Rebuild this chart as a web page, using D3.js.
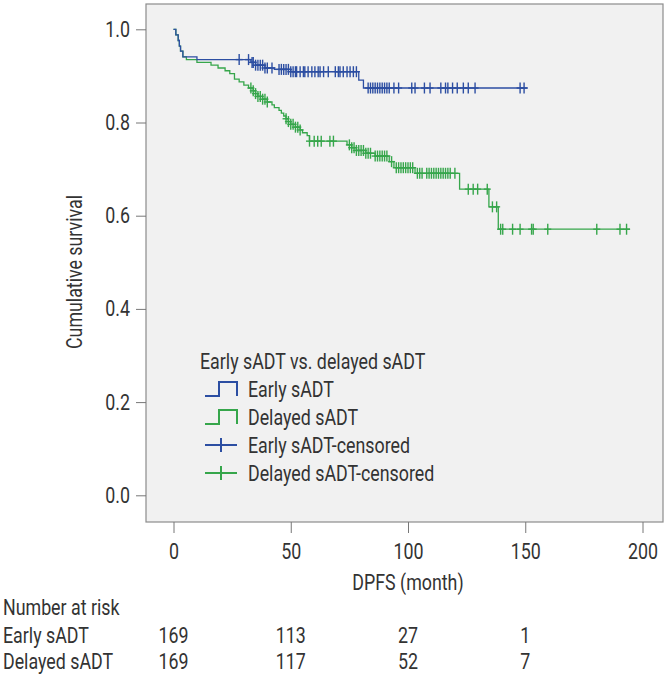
<!DOCTYPE html>
<html><head><meta charset="utf-8">
<script src="https://cdn.jsdelivr.net/npm/d3@7"></script>
<style>
html,body{margin:0;padding:0;background:#fff;}
text{font-family:"Roboto","Noto Sans",sans-serif;fill:#333;}
</style></head>
<body>
<svg id="c" width="668" height="678"></svg>
<script>
// ---- data ----
const xTicks = [0, 50, 100, 150, 200];
const yTicks = [0, 0.2, 0.4, 0.6, 0.8, 1.0];
const groups = ["Early sADT", "Delayed sADT"];
const riskTimes = [0, 50, 100, 150];
const riskEarly = [169, 113, 27, 1];
const riskDelayed = [169, 117, 52, 7];

// Early sADT: event steps [time, survival after]
const earlyTimes = [0, 1, 2, 2.5, 3, 4, 10, 33, 35, 39, 43, 50, 79, 81];
const earlySurv  = [1.0, 0.988, 0.976, 0.964, 0.953, 0.941, 0.935, 0.929, 0.923, 0.917, 0.914, 0.909, 0.891, 0.874];
const earlyEnd = 151;
const earlyCensor = [28, 32, 33.5, 34, 35, 36, 37, 38, 39, 40, 42, 45, 46, 47, 48, 49, 50, 51,
  52, 52.5, 54, 55.4, 56, 57.4, 59, 60.3, 61.7, 62.5, 64, 66, 69, 70.3, 71, 72.4, 74, 75.3, 76.7, 78,
  83, 84, 85, 86, 87, 88, 89, 90, 91, 92, 94, 96, 101.6, 103, 107, 109.4, 114, 116, 117, 119, 121,
  123.6, 125.7, 128.6, 147.8, 149.5];

// Delayed sADT
const delayedTimes = [0, 1, 2, 2.5, 3, 4, 5.5, 10, 16, 19, 22, 24, 26, 28, 30, 32, 34, 35, 36, 38, 40,
  42, 43, 45, 46, 47, 48, 49, 50, 52, 54, 55, 57, 58, 74, 76, 78, 82, 86, 92, 94, 103, 122, 134.5, 138.5];
const delayedSurv  = [1.0, 0.988, 0.976, 0.964, 0.953, 0.941, 0.935, 0.929, 0.923, 0.917, 0.911, 0.905, 0.893, 0.887, 0.880, 0.874, 0.868, 0.862, 0.856, 0.850, 0.844,
  0.838, 0.832, 0.826, 0.820, 0.814, 0.808, 0.802, 0.796, 0.790, 0.784, 0.778, 0.772, 0.760, 0.752, 0.746, 0.740, 0.734, 0.728, 0.716, 0.703, 0.691, 0.657, 0.619, 0.571];
const delayedEnd = 194.7;
const delayedCensor = [33, 34, 35, 36, 37, 38, 39, 40, 48, 49, 50, 51, 52, 53, 54,
  58, 60, 61.5, 63, 66.7, 68.2, 75, 76, 77, 78, 79, 80, 81, 82, 83, 84, 86, 87, 88, 89, 90, 91,
  93, 95, 96, 97, 98, 99, 100, 101, 102, 104, 105, 106, 108, 109, 110, 111, 112, 113, 114, 115, 116, 117, 118, 120,
  125.7, 127.8, 129.7, 133.8, 136, 137.8, 139.5, 140.4, 144.6, 147.8, 152.7, 153.4, 159.6, 180.5, 190.4, 193.2];

const colors = {"Early sADT": "#2c4ea2", "Delayed sADT": "#36a64b"};

// ---- drawing ----
const SX = 0.81;      // horizontal condensing of the type face
const FS = "22px";
const svg = d3.select("#c");
const frame = {x0: 146, y0: 4, x1: 663, y1: 522};
const x = d3.scaleLinear().domain([0, 200]).range([173.5, 642.5]);
const y = d3.scaleLinear().domain([0, 1]).range([495.3, 29.3]);

function txt(parent, px, py, str, anchor, rot) {
  return parent.append("text")
    .attr("transform", `translate(${px},${py})` + (rot ? ` rotate(${rot})` : "") + ` scale(${SX},1)`)
    .attr("text-anchor", anchor || "start").style("font-size", FS).text(str);
}

svg.append("rect").attr("x", frame.x0).attr("y", frame.y0)
  .attr("width", frame.x1 - frame.x0).attr("height", frame.y1 - frame.y0)
  .attr("fill", "#f1f1f1").attr("stroke", "#8c8c8c").attr("stroke-width", 1.2);

// y axis
const yAxis = d3.axisLeft(y).tickValues(yTicks).tickFormat(d3.format(".1f")).tickSize(10).tickPadding(6);
const gy = svg.append("g").attr("transform", `translate(${frame.x0},0)`).call(yAxis);
gy.select(".domain").remove();
gy.selectAll(".tick line").attr("stroke", "#777");
gy.selectAll(".tick text").style("font-size", FS).attr("fill", "#333")
  .attr("x", -16 / SX).attr("transform", `scale(${SX},1)`);

// x axis
const xAxis = d3.axisBottom(x).tickValues(xTicks).tickFormat(d3.format("d")).tickSize(11).tickPadding(10);
const gx = svg.append("g").attr("transform", `translate(0,${frame.y1})`).call(xAxis);
gx.select(".domain").remove();
gx.selectAll(".tick line").attr("stroke", "#777");
gx.selectAll(".tick text").style("font-size", FS).attr("fill", "#333").attr("transform", `scale(${SX},1)`);

txt(svg, x(100), 590, "DPFS (month)", "middle");
txt(svg, 82, 272, "Cumulative survival", "middle", -90);

// curves
function stepPath(times, surv, end) {
  const pts = [];
  for (let i = 0; i < times.length; i++) {
    if (i > 0) pts.push([times[i], surv[i - 1]]);
    pts.push([times[i], surv[i]]);
  }
  pts.push([end, surv[surv.length - 1]]);
  return pts;
}
function survAt(times, surv, t) {
  let s = surv[0];
  for (let i = 0; i < times.length; i++) { if (times[i] <= t) s = surv[i]; }
  return s;
}
const line = d3.line().x(d => x(d[0])).y(d => y(d[1]));
const series = [
  {name: "Delayed sADT", times: delayedTimes, surv: delayedSurv, end: delayedEnd, cens: delayedCensor},
  {name: "Early sADT", times: earlyTimes, surv: earlySurv, end: earlyEnd, cens: earlyCensor}
];
series.forEach(s => {
  const col = colors[s.name];
  svg.append("path").datum(stepPath(s.times, s.surv, s.end)).attr("d", line)
    .attr("fill", "none").attr("stroke", col).attr("stroke-width", 1.3);
  const g = svg.append("g").attr("stroke", col).attr("stroke-width", 1.4);
  s.cens.forEach(t => {
    const cx = x(t), cy = y(survAt(s.times, s.surv, t));
    g.append("line").attr("x1", cx).attr("x2", cx).attr("y1", cy - 5.5).attr("y2", cy + 5.5);
    g.append("line").attr("x1", cx - 3.5).attr("x2", cx + 3.5).attr("y1", cy).attr("y2", cy);
  });
});

// legend
const lg = svg.append("g");
txt(lg, 200, 369, "Early sADT vs. delayed sADT");
const items = [
  {label: "Early sADT", col: colors["Early sADT"], type: "step"},
  {label: "Delayed sADT", col: colors["Delayed sADT"], type: "step"},
  {label: "Early sADT-censored", col: colors["Early sADT"], type: "cens"},
  {label: "Delayed sADT-censored", col: colors["Delayed sADT"], type: "cens"}
];
items.forEach((it, i) => {
  const cy = 389 + i * 28;
  if (it.type === "step") {
    lg.append("path").attr("d", `M205,${cy + 7} H219 V${cy - 7} H237 V${cy + 7}`)
      .attr("fill", "none").attr("stroke", it.col).attr("stroke-width", 2);
  } else {
    lg.append("line").attr("x1", 205).attr("x2", 237).attr("y1", cy).attr("y2", cy).attr("stroke", it.col).attr("stroke-width", 2);
    lg.append("line").attr("x1", 221).attr("x2", 221).attr("y1", cy - 7).attr("y2", cy + 7).attr("stroke", it.col).attr("stroke-width", 2);
  }
  txt(lg, 248, cy + 8, it.label);
});

// risk table
txt(svg, 3, 615, "Number at risk");
const rows = [{label: groups[0], vals: riskEarly, y: 643}, {label: groups[1], vals: riskDelayed, y: 669}];
rows.forEach(r => {
  txt(svg, 3, r.y, r.label);
  riskTimes.forEach((t, i) => txt(svg, x(t), r.y, r.vals[i], "middle"));
});
</script>
</body></html>
